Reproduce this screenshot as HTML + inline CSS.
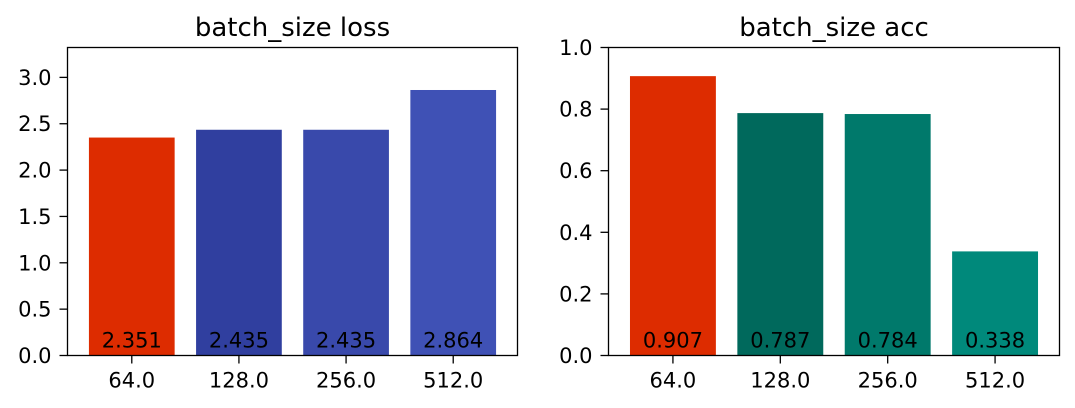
<!DOCTYPE html>
<html><head><meta charset="utf-8"><style>
body{margin:0;background:#fff;}
svg{display:block;font-family:"DejaVu Sans","Liberation Sans",sans-serif;}
</style></head><body>
<svg id="c" width="1075" height="408"></svg>
<script>
const categories=["64.0","128.0","256.0","512.0"];
const lossValues=[2.351,2.435,2.435,2.864];
const accValues=[0.907,0.787,0.784,0.338];
const lossTicks=[0,0.5,1.0,1.5,2.0,2.5,3.0];
const accTicks=[0,0.2,0.4,0.6,0.8,1.0];
const lossColors=["#dd2c00","#303f9f","#3949ab","#3f51b5"];
const accColors=["#dd2c00","#00695c","#00796b","#00897b"];
const NS="http://www.w3.org/2000/svg";
const svg=document.getElementById('c');
function mk(t,a,p){const e=document.createElementNS(NS,t);for(const k in a)e.setAttribute(k,a[k]);(p||svg).appendChild(e);return e;}
function panel(o){
  const g=mk('g',{});
  
  
  const x=i=>o.x0+(i-o.xmin)/(o.xmax-o.xmin)*(o.x1-o.x0);
  const y=v=>o.y1-(v-0)/(o.ymax)*(o.y1-o.y0);
  const bw=x(0.4)-x(0);
  o.vals.forEach((v,i)=>{
    const r=mk('rect',{x:x(i)-bw,y:y(v),width:2*bw,height:y(0)-y(v),fill:o.colors[i]},g);
    
    
    const t=mk('text',{x:x(i),y:y(0)-8,'text-anchor':'middle','font-size':'21',fill:'#000'},g);
    t.textContent=o.fmt(v);
    
    
    mk('line',{x1:x(i),x2:x(i),y1:o.y1,y2:o.y1+8,stroke:'#000','stroke-width':1.3},g);
    const xl=mk('text',{x:x(i),y:o.y1+32,'text-anchor':'middle','font-size':'21'},g);
    xl.textContent=categories[i];
    
    
  });
  o.ticks.forEach(v=>{
    mk('line',{x1:o.x0-8,x2:o.x0,y1:y(v),y2:y(v),stroke:'#000','stroke-width':1.3},g);
    const t=mk('text',{x:o.x0-16,y:y(v)+7.5,'text-anchor':'end','font-size':'21'},g);
    t.textContent=v.toFixed(1);
    
    
  });
  const b=mk('rect',{x:o.x0,y:o.y0,width:o.x1-o.x0,height:o.y1-o.y0,fill:'none',stroke:'#000','stroke-width':1.3},g);
  
  
  const tt=mk('text',{x:(o.x0+o.x1)/2,y:36,'text-anchor':'middle','font-size':'26'},g);
  tt.textContent=o.title;
  
  
}
panel({name:'loss-panel',title:'batch_size loss',x0:67.5,x1:517.5,y0:47.5,y1:355.5,xmin:-0.6,xmax:3.6,ymax:3.3224,vals:lossValues,colors:lossColors,ticks:lossTicks,fmt:v=>v.toFixed(3)});
panel({name:'acc-panel',title:'batch_size acc',x0:608.5,x1:1059.5,y0:47.5,y1:355.5,xmin:-0.6,xmax:3.6,ymax:1.0,vals:accValues,colors:accColors,ticks:accTicks,fmt:v=>v.toFixed(3)});
</script>
</body></html>
